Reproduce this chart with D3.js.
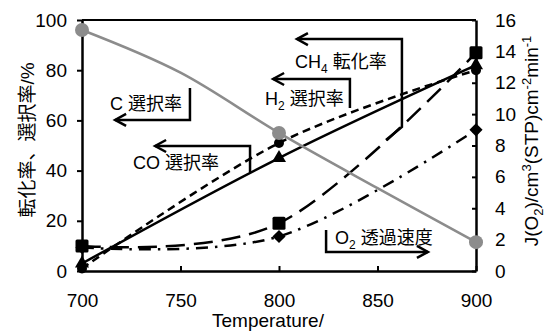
<!DOCTYPE html>
<html>
<head>
<meta charset="utf-8">
<script src="https://cdn.jsdelivr.net/npm/d3@7"></script>
<style>
    body { margin: 0; background: #fff; }
    svg { display: block; font-family: "Liberation Sans", Arial, "Noto Sans CJK JP", sans-serif; }
</style>
</head>
<body>
<div id="chart"></div>
<script>
// Values
const temps = [700, 800, 900];
const ch4Conv = [10, 19, 87];       // CH4 転化率 (%), squares, long dash
const h2Sel = [1, 51, 80];          // H2 選択率 (%), short dash
const coSel = [3, 45, 82];          // CO 選択率 (%), solid, triangles
const o2Flux = [1.5, 2.2, 9.0];     // O2 透過速度, right axis, diamonds

// C 選択率 (grey): the curve is read at every 50 degrees, markers only at the measured temps
const cTemps = [700, 750, 800, 850, 900];
const cSel = [96, 79, 55, 33, 11.5];
const cMarked = [700, 800, 900];

const xTicks = [700, 750, 800, 850, 900];
const yLeftTicks = [0, 20, 40, 60, 80, 100];
const yRightTicks = [0, 2, 4, 6, 8, 10, 12, 14, 16];

// Annotation arrows in data units [temperature, %]
const notes = [
    { parts: [['C 選択率']], at: [714.2, 64.1],
      path: [[754.8, 72.9], [754.8, 60.2], [716.8, 60.2]], head: 'left' },
    { parts: [['CO 選択率']], at: [725.9, 40.6],
      path: [[785.3, 39.4], [785.3, 49.8], [737.1, 49.8]], head: 'left' },
    { parts: [['H'], ['2', 'sub'], [' 選択率']], at: [792.9, 66.1],
      path: [[836, 64.9], [836, 76.5], [797, 76.5]], head: 'left' },
    { parts: [['CH'], ['4', 'sub'], [' 転化率']], at: [808.1, 80.9],
      path: [[854.3, 52.2], [862.4, 57.4], [862.4, 92.4], [809.1, 92.4]], head: 'left' },
    { parts: [['O'], ['2', 'sub'], [' 透過速度']], at: [828.4, 10.8],
      path: [[823.9, 16.3], [823.9, 7.6], [875.6, 7.6]], head: 'right' },
];

const width = 545, height = 334;
const margin = { top: 20, right: 69, bottom: 63, left: 82 };

const svg = d3.select('#chart').append('svg')
    .attr('width', width)
    .attr('height', height);

const x = d3.scaleLinear().domain([700, 900]).range([margin.left, width - margin.right]);
const yL = d3.scaleLinear().domain([0, 100]).range([height - margin.bottom, margin.top]);
const yR = d3.scaleLinear().domain([0, 16]).range([height - margin.bottom, margin.top]);

const curve = d3.curveCardinal.tension(0);

// Frame top line
svg.append('line')
    .attr('x1', x(700)).attr('x2', x(900))
    .attr('y1', yL(100)).attr('y2', yL(100))
    .attr('stroke', '#000').attr('stroke-width', 2);

// Axes
const gx = svg.append('g')
    .attr('transform', `translate(0,${yL(0)})`)
    .call(d3.axisBottom(x).tickValues(xTicks).tickSizeInner(-5).tickSizeOuter(0).tickPadding(23));
const gl = svg.append('g')
    .attr('transform', `translate(${x(700)},0)`)
    .call(d3.axisLeft(yL).tickValues(yLeftTicks).tickSizeInner(5).tickSizeOuter(0).tickPadding(10));
const gr = svg.append('g')
    .attr('transform', `translate(${x(900)},0)`)
    .call(d3.axisRight(yR).tickValues(yRightTicks).tickSizeInner(-4).tickSizeOuter(0).tickPadding(18));

[gx, gl, gr].forEach(g => {
    g.select('.domain').attr('stroke-width', 2.5);
    g.selectAll('.tick line').attr('stroke-width', 2);
    g.selectAll('text').attr('font-size', 19).attr('font-family', null).attr('fill', '#000');
});
gr.selectAll('text').attr('x', 19);

// Axis titles
svg.append('text')
    .attr('x', 268).attr('y', 327)
    .attr('text-anchor', 'middle')
    .attr('font-size', 19)
    .text('Temperature/');

svg.append('text')
    .attr('transform', 'translate(34,140) rotate(-90)')
    .attr('text-anchor', 'middle')
    .attr('font-size', 19)
    .text('転化率、選択率/%');

const rt = svg.append('text')
    .attr('transform', 'translate(538,141) rotate(-90)')
    .attr('text-anchor', 'middle')
    .attr('font-size', 19);
const rparts = [['J(O'], ['2', 'sub'], [')/cm'], ['3', 'sup'], ['(STP)cm'], ['-2', 'sup'], ['min'], ['-1', 'sup']];
addParts(rt, rparts, 13);

function addParts(textSel, parts, small) {
    let shift = 0;
    parts.forEach(([s, kind]) => {
        const target = kind === 'sub' ? 5 : kind === 'sup' ? -7 : 0;
        textSel.append('tspan')
            .attr('dy', target - shift)
            .attr('font-size', kind ? small : null)
            .text(s);
        shift = target;
    });
}

// Series lines
const line = (xs, ys, yScale) => d3.line()
    .x((d, i) => x(xs[i]))
    .y(d => yScale(d))
    .curve(curve)(ys);

svg.append('path').attr('d', line(temps, o2Flux, yR))
    .attr('fill', 'none').attr('stroke', '#000').attr('stroke-width', 2.5)
    .attr('stroke-dasharray', '12,7,2.5,7');
svg.append('path').attr('d', line(temps, ch4Conv, yL))
    .attr('fill', 'none').attr('stroke', '#000').attr('stroke-width', 2.5)
    .attr('stroke-dasharray', '19,9');
svg.append('path').attr('d', line(temps, h2Sel, yL))
    .attr('fill', 'none').attr('stroke', '#000').attr('stroke-width', 2.5)
    .attr('stroke-dasharray', '8,5');
svg.append('path').attr('d', line(temps, coSel, yL))
    .attr('fill', 'none').attr('stroke', '#000').attr('stroke-width', 2.5);

// Markers
svg.selectAll('path.dia').data(o2Flux).enter().append('path')
    .attr('class', 'dia')
    .attr('d', d3.symbol(d3.symbolDiamond2, 110)())
    .attr('transform', (d, i) => `translate(${x(temps[i])},${yR(d)})`)
    .attr('fill', '#000');
svg.selectAll('circle.h2').data(h2Sel).enter().append('circle')
    .attr('class', 'h2')
    .attr('cx', (d, i) => x(temps[i])).attr('cy', d => yL(d))
    .attr('r', 5).attr('fill', '#000');
svg.selectAll('path.tri').data(coSel).enter().append('path')
    .attr('class', 'tri')
    .attr('d', d3.symbol(d3.symbolTriangle, 85)())
    .attr('transform', (d, i) => `translate(${x(temps[i])},${yL(d)})`)
    .attr('fill', '#000');
svg.selectAll('rect.sq').data(ch4Conv).enter().append('rect')
    .attr('class', 'sq')
    .attr('x', (d, i) => x(temps[i]) - 6.5).attr('y', d => yL(d) - 6.5)
    .attr('width', 13).attr('height', 13).attr('rx', 1.5)
    .attr('fill', '#000');

// C selectivity in grey on top
svg.append('path').attr('d', line(cTemps, cSel, yL))
    .attr('fill', 'none').attr('stroke', '#8c8c8c').attr('stroke-width', 2.5);
const cPoints = cTemps.map((t, i) => [t, cSel[i]]).filter(p => cMarked.includes(p[0]));
svg.selectAll('circle.c').data(cPoints).enter().append('circle')
    .attr('class', 'c')
    .attr('cx', d => x(d[0])).attr('cy', d => yL(d[1]))
    .attr('r', 7).attr('fill', '#8c8c8c');

// Annotations
const ann = svg.append('g');
notes.forEach(n => {
    const pts = n.path.map(([t, v]) => [x(t), yL(v)]);
    ann.append('path')
        .attr('d', d3.line()(pts))
        .attr('fill', 'none').attr('stroke', '#000').attr('stroke-width', 2.5)
        .attr('stroke-linejoin', 'miter');
    const [tx, ty] = pts[pts.length - 1];
    const dir = n.head === 'left' ? 1 : -1;
    ann.append('path')
        .attr('d', d3.line()([[tx + dir * 11, ty - 6], [tx, ty], [tx + dir * 11, ty + 6]]))
        .attr('fill', 'none').attr('stroke', '#000').attr('stroke-width', 2.5);
    const t = ann.append('text')
        .attr('x', x(n.at[0])).attr('y', yL(n.at[1]))
        .attr('font-size', 18);
    addParts(t, n.parts, 12);
});
</script>
</body>
</html>
